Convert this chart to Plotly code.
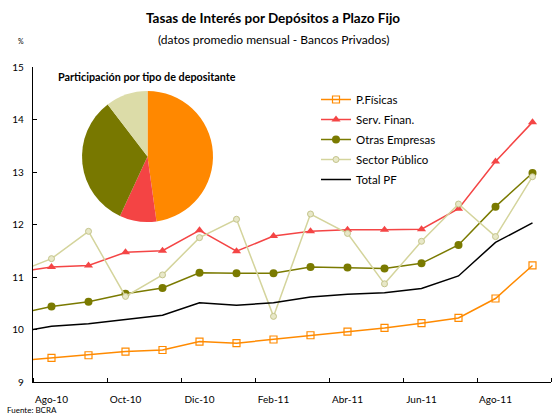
import plotly.graph_objects as go

# ---- data ----
months = ["Jul-10", "Ago-10", "Sep-10", "Oct-10", "Nov-10", "Dic-10", "Ene-11", "Feb-11",
          "Mar-11", "Abr-11", "May-11", "Jun-11", "Jul-11", "Ago-11", "Sep-11"]
p_fisicas = [9.40, 9.46, 9.51, 9.58, 9.61, 9.77, 9.74, 9.81, 9.89, 9.96, 10.03, 10.12, 10.22, 10.59, 11.22]
serv_finan = [11.09, 11.19, 11.22, 11.47, 11.50, 11.89, 11.49, 11.78, 11.87, 11.90, 11.90, 11.91, 12.30, 13.20, 13.95]
otras_emp = [10.28, 10.44, 10.53, 10.68, 10.79, 11.08, 11.07, 11.07, 11.19, 11.18, 11.16, 11.26, 11.61, 12.34, 12.98]
sector_pub = [11.07, 11.35, 11.87, 10.63, 11.04, 11.75, 12.10, 10.25, 12.20, 11.83, 10.87, 11.68, 12.39, 11.77, 12.91]
total_pf = [9.94, 10.06, 10.11, 10.19, 10.27, 10.51, 10.46, 10.51, 10.62, 10.67, 10.70, 10.78, 11.02, 11.66, 12.03]

pie_labels = ["P.Físicas", "Serv. Finan.", "Otras Empresas", "Sector Público"]
pie_values = [47.8, 9.1, 32.7, 10.4]

x = list(range(len(months)))
label_idx = x[1::2]
label_txt = months[1::2]
boundaries = [i + 0.5 for i in x[0::2]]

FONT = "Lato"
C_OR = "#FF8A00"
C_RED = "#F44545"
C_OLV = "#7A7A00"
C_KH = "#D4D49C"

# plot area in pixels: x 33..551, y 67..382
L, R, T, B = 33, 551, 67, 382
PW, PH = R - L, B - T


def px(xp):
    return (xp - L) / PW


def py(yp):
    return (B - yp) / PH


fig = go.Figure()

fig.add_trace(go.Pie(
    labels=pie_labels, values=pie_values, sort=False, direction="clockwise", rotation=0,
    marker=dict(colors=["#FF8800", "#F44444", "#787800", "#DCDCA8"], line=dict(width=0)),
    textinfo="none", hoverinfo="label+percent", showlegend=False,
    domain=dict(x=[px(82), px(213)], y=[py(222), py(91)]),
))

fig.add_trace(go.Scatter(x=x, y=p_fisicas, name="P.Físicas", mode="lines+markers", legendgroup="a",
                         line=dict(color=C_OR, width=1.5),
                         marker=dict(symbol="square-open", size=7, color=C_OR, line=dict(width=1.2))))
fig.add_trace(go.Scatter(x=x, y=serv_finan, name="Serv. Finan.", mode="lines+markers", legendgroup="b",
                         line=dict(color=C_RED, width=1.5),
                         marker=dict(symbol="triangle-up", size=8, color=C_RED)))
fig.add_trace(go.Scatter(x=x, y=otras_emp, name="Otras Empresas", mode="lines+markers", legendgroup="c",
                         line=dict(color=C_OLV, width=1.5),
                         marker=dict(symbol="circle", size=8, color=C_OLV)))
fig.add_trace(go.Scatter(x=x, y=sector_pub, name="Sector Público", mode="lines+markers", legendgroup="d",
                         line=dict(color=C_KH, width=1.5),
                         marker=dict(symbol="circle", size=6, color="#E8E8C8",
                                     line=dict(color="#C4C48C", width=1))))
fig.add_trace(go.Scatter(x=x, y=total_pf, name="Total PF", mode="lines", legendgroup="e",
                         line=dict(color="black", width=1.5)))

fig.update_layout(
    width=552, height=415,
    margin=dict(l=L, r=552 - R, t=T, b=415 - B, autoexpand=False),
    paper_bgcolor="white", plot_bgcolor="white",
    font=dict(family=FONT, size=10, color="black"),
    showlegend=True,
    legend=dict(x=px(316), y=py(85), xanchor="left", yanchor="top",
                bgcolor="rgba(0,0,0,0)", font=dict(size=11.5, family=FONT),
                itemwidth=30, tracegroupgap=1),
    xaxis=dict(range=[0.5, 14.5], tickmode="array", tickvals=label_idx, ticktext=label_txt,
               ticks="", showgrid=False, zeroline=False, showline=True, linecolor="black",
               linewidth=1.3, ticklabelstandoff=8, tickfont=dict(size=10), automargin=False,
               minor=dict(tickmode="array", tickvals=boundaries, ticks="inside", ticklen=4,
                          tickcolor="black", tickwidth=1, showgrid=False)),
    yaxis=dict(range=[9, 15], dtick=1, ticks="inside", ticklen=4, tickcolor="black",
               showgrid=False, zeroline=False, showline=True, linecolor="black", linewidth=1.3,
               ticklabelstandoff=6, tickfont=dict(size=10), automargin=False),
)

fig.add_annotation(text="<b>Tasas de Interés por Depósitos a Plazo Fijo</b>", xref="paper", yref="paper",
                   x=px(273), y=py(18), xanchor="center", yanchor="middle",
                   showarrow=False, font=dict(size=13.5, family=FONT))
fig.add_annotation(text="(datos promedio mensual - Bancos Privados)", xref="paper", yref="paper",
                   x=px(273), y=py(39), xanchor="center", yanchor="middle",
                   showarrow=False, font=dict(size=12, family=FONT))
fig.add_annotation(text="%", xref="paper", yref="paper", x=px(21), y=py(41),
                   xanchor="center", yanchor="middle", showarrow=False, font=dict(size=7, family=FONT))
fig.add_annotation(text="<b>Participación por tipo de depositante</b>", xref="paper", yref="paper",
                   x=px(56), y=py(76), xanchor="left", yanchor="middle",
                   showarrow=False, font=dict(size=10.8, family=FONT))
fig.add_annotation(text="Fuente: BCRA", xref="paper", yref="paper", x=px(5), y=py(410),
                   xanchor="left", yanchor="middle", showarrow=False, font=dict(size=8, family=FONT))

fig.write_html("out.html", config={"displayModeBar": False},
               post_script="document.body.style.margin='0px';")
